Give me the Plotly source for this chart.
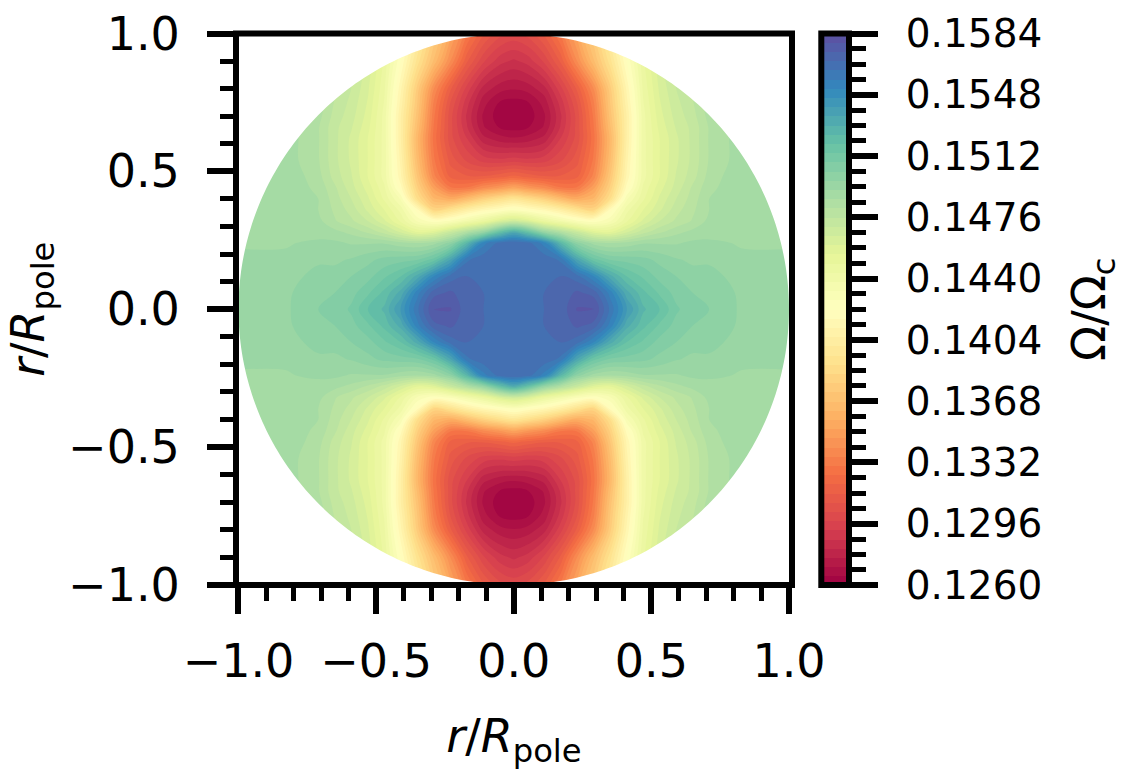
import numpy as np
import plotly.graph_objects as go

W, H = 1123, 773

# Quadrant grid (the field is mirrored in both axes)
X_COORDS = [0, .05, .11, .17, .23, .29, .35, .41, .47, .53, .59, .65, .71, .83, 1.02]
Y_COORDS = [0, .06, .12, .18, .24, .28, .32, .36, .40, .44, .48, .54, .62, .66, .70, .75, .80, .90, 1.02]

OMEGA_MIN = 0.1260
OMEGA_MAX = 0.1584

# Position of Omega/Omega_c in the colour bar range, in percent; rows follow Y_COORDS
PCT_Y000 = [95, 95, 95, 95.5, 98.5, 98.5, 93, 87, 82, 80, 77, 75.5, 75, 73, 72]
PCT_Y006 = [95, 95, 95, 95.5, 97, 96, 91, 84, 80.5, 78, 76, 75, 74.5, 73, 72]
PCT_Y012 = [95, 95, 95, 95, 94, 90, 84, 80, 78, 76, 75, 74, 74, 72.5, 72]
PCT_Y018 = [95, 95, 94.5, 93, 85, 79, 76.5, 76, 75.5, 74.5, 73.5, 73, 73, 72, 72]
PCT_Y024 = [95, 94, 91, 82, 74, 71, 70, 70.5, 71.5, 71.5, 71.5, 72, 72, 71.5, 71.5]
PCT_Y028 = [84, 80, 73, 69, 65, 61, 60, 63, 66, 68, 69.5, 70.5, 71, 71.5, 71.5]
PCT_Y032 = [64, 62, 58, 55, 52, 50.5, 53, 58, 62, 65, 67, 68.5, 70.5, 71.5, 71.5]
PCT_Y036 = [51.5, 50, 48, 45, 41, 38, 49, 56, 60, 63, 66, 68, 70, 71.5, 71.5]
PCT_Y040 = [42, 40, 37, 33, 30, 32, 40, 53, 58, 62, 65, 67.5, 70, 71.5, 71.5]
PCT_Y044 = [29, 27, 25, 22, 22, 28, 37, 49, 57, 61, 64, 67, 69.5, 71.5, 71.5]
PCT_Y048 = [19, 18, 17, 17, 18, 24, 35, 47, 56, 60, 63.5, 66, 69, 71.5, 71.5]
PCT_Y054 = [11, 10.5, 11, 13, 16, 22, 33, 46, 56, 60, 63, 65.5, 68.5, 71, 71.5]
PCT_Y062 = [3.5, 4, 5.5, 10, 14, 21, 32, 45, 56, 60, 63, 65.5, 68.5, 71, 71.5]
PCT_Y066 = [1, 1.5, 3.5, 8.5, 14, 21.5, 33, 45, 56, 60.5, 63.5, 65.5, 68.5, 71, 71.5]
PCT_Y070 = [0, .7, 3, 8, 14, 22, 34, 45, 56, 61, 64, 66, 69, 71, 71.5]
PCT_Y075 = [1, 1.5, 4, 9, 15, 23, 35, 46, 56.5, 61.5, 64.5, 66.5, 69.5, 71, 71.5]
PCT_Y080 = [3.5, 4, 6, 11, 17, 25, 36, 47, 57, 62, 65, 67, 70, 71, 71.5]
PCT_Y090 = [8, 9, 12, 17, 25, 33, 41, 50, 58, 63, 66, 68, 70.5, 71, 71.5]
PCT_Y100 = [14, 15, 18, 23, 30, 37, 45, 53, 60, 65, 67, 69, 70.5, 71, 71.5]

AXIS_TICKS = [-1.0, -0.5, 0.0, 0.5, 1.0]
CBAR_TICKS = [0.1260, 0.1296, 0.1332, 0.1368, 0.1404, 0.1440, 0.1476, 0.1512, 0.1548, 0.1584]
SPECTRAL = ["#9e0142", "#d53e4f", "#f46d43", "#fdae61", "#fee08b", "#ffffbf",
            "#e6f598", "#abdda4", "#66c2a5", "#3288bd", "#5e4fa2"]
N_LEVELS = 60
FONT = "DejaVu Sans"

quadrant = np.array([PCT_Y000, PCT_Y006, PCT_Y012, PCT_Y018, PCT_Y024, PCT_Y028, PCT_Y032,
                     PCT_Y036, PCT_Y040, PCT_Y044, PCT_Y048, PCT_Y054, PCT_Y062, PCT_Y066,
                     PCT_Y070, PCT_Y075, PCT_Y080, PCT_Y090, PCT_Y100])
quadrant = OMEGA_MIN + quadrant / 100 * (OMEGA_MAX - OMEGA_MIN)
right = np.hstack([quadrant[:, :0:-1], quadrant])
z = np.vstack([right[:0:-1, :], right])
xs = [-v for v in X_COORDS[:0:-1]] + X_COORDS
ys = [-v for v in Y_COORDS[:0:-1]] + Y_COORDS

colorscale = [[i / 10, c] for i, c in enumerate(SPECTRAL)]
step = (OMEGA_MAX - OMEGA_MIN) / N_LEVELS
bar_levels = [OMEGA_MIN + (i + .5) * step for i in range(N_LEVELS)]

fig = go.Figure()
fig.add_trace(go.Contour(
    x=xs, y=ys, z=z, colorscale=colorscale, zmin=OMEGA_MIN, zmax=OMEGA_MAX,
    autocontour=False, contours=dict(start=OMEGA_MIN, end=OMEGA_MAX, size=step, coloring="fill", showlines=False),
    line=dict(width=0), showscale=False, hoverinfo="skip"))
fig.add_trace(go.Heatmap(
    x=[0], y=bar_levels, z=[[v] for v in bar_levels], colorscale=colorscale,
    zmin=OMEGA_MIN, zmax=OMEGA_MAX, showscale=False, xaxis="x2", yaxis="y2", hoverinfo="skip"))

# The field only exists inside the unit circle: white cover outside it
theta = np.linspace(0, 2 * np.pi, 361)[:-1]
circle = "M" + "L".join(f"{np.cos(t):.5f},{np.sin(t):.5f}" for t in theta) + "Z"
cover = "M-1.2,-1.2L1.2,-1.2L1.2,1.2L-1.2,1.2Z" + circle

PX0, PX1, PY0, PY1 = 236, 792, 33.5, 585
CX0, CX1 = 821.3, 849
dom_x = [PX0 / W, PX1 / W]
dom_y = [1 - PY1 / H, 1 - PY0 / H]
dom_cx = [CX0 / W, CX1 / W]

tick_font = dict(family=FONT, size=46, color="black")
title_font = dict(family=FONT, size=46, color="black")
common = dict(ticks="outside", ticklen=28, tickwidth=6, tickcolor="black", showgrid=False,
              zeroline=False, showline=False, tickfont=tick_font, tickvals=AXIS_TICKS,
              tickformat=".1f", automargin=False,
              minor=dict(ticks="outside", dtick=0.1, tick0=0, ticklen=15, tickwidth=5,
                         tickcolor="black", showgrid=False))

fig.update_layout(
    width=W, height=H, autosize=False, margin=dict(l=0, r=0, t=0, b=0),
    paper_bgcolor="white", plot_bgcolor="white", showlegend=False,
    font=dict(family=FONT, color="black"),
    xaxis=dict(domain=dom_x, range=[-1.009, 1.011], anchor="y", ticklabelstandoff=8,
               title=dict(text="<i>r</i>/<i>R</i><sub>pole</sub>", font=title_font, standoff=32), **common),
    yaxis=dict(domain=dom_y, range=[-1, 1], anchor="x", ticklabelstandoff=18,
               title=dict(text="<i>r</i>/<i>R</i><sub>pole</sub>", font=title_font, standoff=8), **common),
    xaxis2=dict(domain=dom_cx, anchor="y2", visible=False, range=[-.5, .5], automargin=False),
    yaxis2=dict(domain=dom_y, anchor="x2", side="right", range=[OMEGA_MIN, OMEGA_MAX], automargin=False,
                tickvals=CBAR_TICKS, tickformat=".4f", ticks="outside", ticklen=28, tickwidth=6,
                tickcolor="black", showgrid=False, zeroline=False, showline=False,
                tickfont=dict(family=FONT, size=39, color="black"), ticklabelstandoff=20,
                title=dict(text="Ω/Ω<sub>c</sub>", font=title_font, standoff=36),
                minor=dict(ticks="outside", dtick=0.0009, tick0=OMEGA_MIN, ticklen=16, tickwidth=5,
                           tickcolor="black", showgrid=False)),
    shapes=[
        dict(type="path", xref="x", yref="y", path=cover, fillcolor="white",
             line=dict(width=0), layer="above"),
        dict(type="rect", xref="paper", yref="paper", x0=dom_x[0], x1=dom_x[1], y0=dom_y[0], y1=dom_y[1],
             line=dict(color="black", width=6), fillcolor="rgba(0,0,0,0)", layer="above"),
        dict(type="rect", xref="paper", yref="paper", x0=dom_cx[0], x1=dom_cx[1], y0=dom_y[0], y1=dom_y[1],
             line=dict(color="black", width=6), fillcolor="rgba(0,0,0,0)", layer="above"),
    ])

fig.write_html("out.html", config=dict(displayModeBar=False), post_script="document.body.style.margin='0';")
